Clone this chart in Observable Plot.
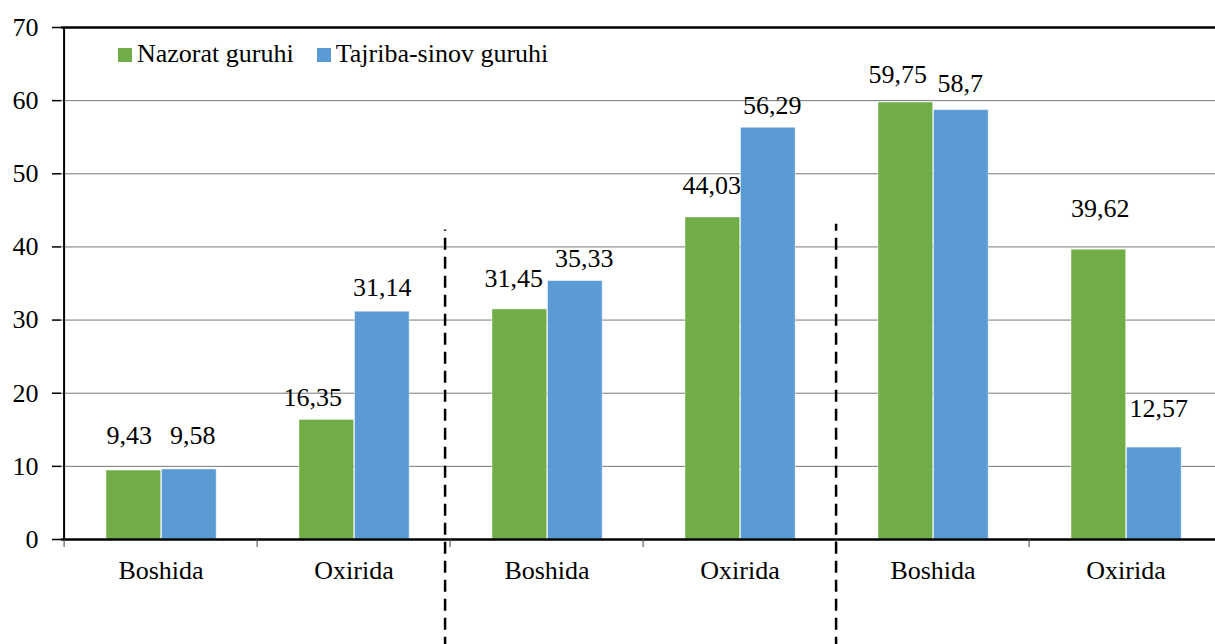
<!DOCTYPE html>
<html>
<head>
<meta charset="utf-8">
<script src="https://cdn.jsdelivr.net/npm/d3@7"></script>
<script src="https://cdn.jsdelivr.net/npm/@observablehq/plot@0.6"></script>
<style>
  html, body { margin: 0; padding: 0; background: #fff; }
  #wrap { position: relative; width: 1215px; height: 644px; font-family: 'Liberation Serif', serif; }
  #legend { position: absolute; left: 118px; top: 41px; display: flex; font-size: 26px; line-height: 26px; color: #000; white-space: nowrap; }
  .item { display: flex; align-items: flex-start; }
  .sw { width: 14px; height: 14px; margin-top: 7px; margin-right: 5px; }
</style>
</head>
<body>
<div id="wrap">
  <div id="chart"></div>
  <div id="legend"></div>
</div>
<script>
// ---- data ----
const groups = ["Boshida", "Oxirida", "Boshida", "Oxirida", "Boshida", "Oxirida"];
const seriesNames = ["Nazorat guruhi", "Tajriba-sinov guruhi"];
const nazorat = [9.43, 16.35, 31.45, 44.03, 59.75, 39.62];
const tajriba = [9.58, 31.14, 35.33, 56.29, 58.7, 12.57];
const yTicks = [0, 10, 20, 30, 40, 50, 60, 70];
// group separators: after category index, top value (data units)
const separators = [{i: 2, top: 42.3}, {i: 4, top: 43.1}];

// ---- layout / style ----
const colors = ["#70AD47", "#5B9BD5"];
const W = 1215, H = 644;
const xRange = [61, 1224];
const bw = (xRange[1] - xRange[0]) / groups.length;
const barW = 55.5, gapL = 42;
const FS = 26;
// label nudges [dx, dy] per series per category (px)
const nudgeG = [[-4.5, -27], [-14, -14], [-6, -22], [-1, -23], [-8, -19], [1.5, -33]];
const nudgeB = [[3.5, -25], [0, -16], [9, -14], [4, -14], [-1, -18], [4.5, -31]];
const font = "'Liberation Serif', serif";

const idx = d3.range(groups.length);
const rowsG = idx.map(i => ({i, v: nazorat[i]}));
const rowsB = idx.map(i => ({i, v: tajriba[i]}));
const fmt = v => String(v).replace(".", ",");
const offG = gapL + barW / 2 - bw / 2;
const offB = gapL + barW + barW / 2 - bw / 2;

const txt = {lineAnchor: "bottom", fontSize: FS, fill: "#000"};
const labelMarks = [
  ...rowsG.map(d => Plot.text([d], {x: "i", y: "v", text: r => fmt(r.v), dx: offG + nudgeG[d.i][0], dy: nudgeG[d.i][1], ...txt})),
  ...rowsB.map(d => Plot.text([d], {x: "i", y: "v", text: r => fmt(r.v), dx: offB + nudgeB[d.i][0], dy: nudgeB[d.i][1], ...txt}))
];

const chart = Plot.plot({
  width: W,
  height: H,
  marginLeft: 61,
  marginRight: 0,
  marginTop: 27,
  marginBottom: 105,
  style: {fontSize: FS + "px", color: "#000", background: "#fff", overflow: "visible"},
  x: {type: "band", domain: idx, range: xRange, padding: 0},
  y: {domain: [0, 70], range: [539, 27]},
  marks: [
    Plot.ruleY(yTicks.filter(t => t > 0 && t < 70), {y: d => d, stroke: "#777", strokeWidth: 1}),
    Plot.barY(rowsG, {x: "i", y: "v", fill: colors[0], stroke: "#fff", strokeOpacity: 0.45, strokeWidth: 1, insetLeft: gapL, insetRight: bw - gapL - barW}),
    Plot.barY(rowsB, {x: "i", y: "v", fill: colors[1], stroke: "#fff", strokeOpacity: 0.45, strokeWidth: 1, insetLeft: gapL + barW, insetRight: bw - gapL - 2 * barW}),
    Plot.ruleY([70], {y: d => d, stroke: "#000", strokeWidth: 2.5}),
    Plot.ruleY([0], {y: d => d, stroke: "#000", strokeWidth: 2.5}),
    Plot.ruleX(idx, {x: d => d, dx: -bw / 2, y1: 0, y2: -1.1, stroke: "#444", strokeWidth: 1}),
    Plot.ruleX([0], {x: d => d, dx: -bw / 2, y1: 0, y2: 70, stroke: "#000", strokeWidth: 2}),
    Plot.axisY({ticks: yTicks, tickSize: 9, tickPadding: 14, fontSize: FS, stroke: "#000", strokeWidth: 1.5, label: null}),
    Plot.axisX({tickFormat: i => groups[i], tickSize: 0, tickPadding: 21, fontSize: FS, label: null}),
    ...separators.map((s, k) => Plot.ruleX([s], {x: d => d.i, dx: -bw / 2 + (k === 0 ? -5 : 0), y1: -15, y2: d => d.top, stroke: "#000", strokeWidth: 2.5, strokeDasharray: "12,7"})),
    ...labelMarks
  ]
});
chart.style.fontFamily = font;
chart.querySelectorAll("g, text, tspan").forEach(el => {
  el.style.fontFamily = font;
  el.setAttribute("font-family", "Liberation Serif, serif");
});
document.getElementById("chart").appendChild(chart);

const legend = document.getElementById("legend");
legend.style.fontFamily = font;
seriesNames.forEach((n, k) => {
  const it = document.createElement("div");
  it.className = "item";
  if (k > 0) it.style.marginLeft = "23px";
  const sw = document.createElement("div");
  sw.className = "sw";
  sw.style.background = colors[k];
  const t = document.createElement("span");
  t.style.fontFamily = font;
  t.textContent = n;
  it.appendChild(sw); it.appendChild(t);
  legend.appendChild(it);
});
</script>
</body>
</html>
